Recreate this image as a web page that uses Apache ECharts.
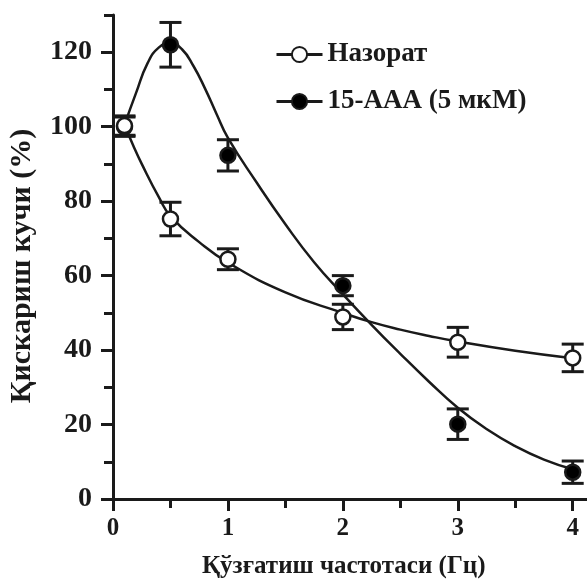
<!DOCTYPE html>
<html><head><meta charset="utf-8">
<script src="https://cdn.jsdelivr.net/npm/echarts@6/dist/echarts.min.js"></script>
<style>html,body{margin:0;padding:0;background:#fff}#c{width:587px;height:580px}</style>
</head><body><div id="c"></div>
<script>
// ---- data ----
const seriesNames = ['Назорат', '15-ААА (5 мкМ)'];
const freq = [0.1, 0.5, 1, 2, 3, 4];
const nazoratMean = [100.3, 75.2, 64.4, 48.9, 42.1, 37.9];
const nazoratErr  = [2.6, 4.5, 2.8, 3.4, 4.0, 3.7];
const aaaMean = [100.0, 122.0, 92.3, 57.3, 20.1, 7.2];
const aaaErr  = [2.6, 6.0, 4.2, 2.7, 4.1, 3.0];
// fitted curves
const nazoratFitX = [0.1, 0.175, 0.25, 0.4, 0.5, 0.75, 1.0, 1.5, 2.0, 2.25, 2.5, 2.75, 3.0, 3.5, 4.0];
const nazoratFitY = [100.5, 95, 90, 81, 76, 69, 63.5, 55.5, 50, 47.5, 45.5, 43.8, 42.3, 39.8, 37.8];
const aaaFitX = [0.1, 0.2, 0.3, 0.4, 0.5, 0.6, 0.7, 0.8, 0.9, 1.0, 1.25, 1.5, 1.75, 2.0, 2.25, 2.5, 2.75, 3.0, 3.25, 3.5, 3.75, 4.0];
const aaaFitY = [100.5, 109, 117, 121.3, 122.4, 120.8, 116.3, 110.3, 103.5, 97, 85, 73.8, 63.6, 55, 46.8, 39, 31.5, 24.5, 18.8, 14.2, 10.6, 8];
const xMajorTicks = [0, 1, 2, 3, 4];
const xMinorTicks = [0.5, 1.5, 2.5, 3.5];
const yMajorTicks = [0, 20, 40, 60, 80, 100, 120];
const yMinorTicks = [10, 30, 50, 70, 90, 110, 130];
const xName = 'Қўзғатиш частотаси (Гц)';
const yName = 'Қискариш кучи (%)';

// ---- chart ----
const INK = '#1a1a1a';
const FONT = '"Liberation Serif", "Times New Roman", serif';
const zip = (a, b) => a.map((v, i) => [v, b[i]]);
const errData = (m, e) => freq.map((x, i) => [x, m[i] - e[i], m[i] + e[i]]);

function errRender(params, api) {
  const x = api.value(0);
  const lo = api.coord([x, api.value(1)]);
  const hi = api.coord([x, api.value(2)]);
  const hw = 11;
  const st = { stroke: INK, lineWidth: 3, fill: null };
  return {
    type: 'group',
    children: [
      { type: 'line', shape: { x1: lo[0], y1: lo[1], x2: hi[0], y2: hi[1] }, style: st },
      { type: 'line', shape: { x1: lo[0] - hw, y1: lo[1], x2: lo[0] + hw, y2: lo[1] }, style: st },
      { type: 'line', shape: { x1: hi[0] - hw, y1: hi[1], x2: hi[0] + hw, y2: hi[1] }, style: st }
    ]
  };
}

const labelStyle = { fontFamily: FONT, fontWeight: 'bold', color: INK };

const option = {
  animation: false,
  backgroundColor: '#fff',
  grid: { left: 113, right: 0.5, top: 15, bottom: 81, containLabel: false, outerBoundsMode: 'none' },
  legend: {
    orient: 'vertical', left: 270, top: 36,
    itemWidth: 46, itemHeight: 19, itemGap: 20,
    textStyle: Object.assign({ fontSize: 27 }, labelStyle),
    data: seriesNames.map(n => ({ name: n, lineStyle: { width: 3, color: INK, opacity: 1 } }))
  },
  xAxis: [
    {
      type: 'value', min: 0, max: 4.12,
      axisLine: { onZero: false, lineStyle: { color: INK, width: 3 } },
      axisTick: { customValues: xMajorTicks, length: 12, lineStyle: { color: INK, width: 3 } },
      axisLabel: Object.assign({ customValues: xMajorTicks, fontSize: 25, margin: 17 }, labelStyle),
      splitLine: { show: false },
      name: xName, nameLocation: 'middle', nameGap: 55,
      nameTextStyle: Object.assign({ fontSize: 25, padding: [0, 12, 0, 0] }, labelStyle)
    },
    {
      type: 'value', min: 0, max: 4.12, position: 'bottom', offset: 0,
      axisLine: { show: false },
      axisTick: { customValues: xMinorTicks, length: 9, lineStyle: { color: INK, width: 3 } },
      axisLabel: { show: false },
      splitLine: { show: false }
    }
  ],
  yAxis: [
    {
      type: 'value', min: 0, max: 130,
      axisLine: { onZero: false, lineStyle: { color: INK, width: 3 } },
      axisTick: { customValues: yMajorTicks, length: 12, lineStyle: { color: INK, width: 3 } },
      axisLabel: Object.assign({ customValues: yMajorTicks, fontSize: 28, margin: 21 }, labelStyle),
      splitLine: { show: false },
      name: yName, nameLocation: 'middle', nameGap: 76,
      nameTextStyle: Object.assign({ fontSize: 30, padding: [0, 18, 0, 0] }, labelStyle)
    },
    {
      type: 'value', min: 0, max: 130, position: 'left', offset: 0,
      axisLine: { show: false },
      axisTick: { customValues: yMinorTicks, length: 9, lineStyle: { color: INK, width: 3 } },
      axisLabel: { show: false },
      splitLine: { show: false }
    }
  ],
  series: [
    { name: 'fitA', type: 'line', data: zip(nazoratFitX, nazoratFitY), smooth: 0.5, symbol: 'none',
      lineStyle: { color: INK, width: 2.5 }, silent: true, z: 2 },
    { name: 'fitB', type: 'line', data: zip(aaaFitX, aaaFitY), smooth: 0.5, symbol: 'none',
      lineStyle: { color: INK, width: 2.5 }, silent: true, z: 2 },
    { name: 'errB', type: 'custom', renderItem: errRender, data: errData(aaaMean, aaaErr),
      encode: { x: 0, y: [1, 2] }, z: 3, silent: true },
    { name: 'errA', type: 'custom', renderItem: errRender, data: errData(nazoratMean, nazoratErr),
      encode: { x: 0, y: [1, 2] }, z: 3, silent: true },
    { name: seriesNames[1], type: 'line', data: zip(freq, aaaMean), symbol: 'circle', symbolSize: 15,
      showAllSymbol: true, lineStyle: { width: 0 },
      itemStyle: { color: '#000', borderColor: INK, borderWidth: 2.5 }, z: 4 },
    { name: seriesNames[0], type: 'line', data: zip(freq, nazoratMean), symbol: 'circle', symbolSize: 15,
      showAllSymbol: true, lineStyle: { width: 0 },
      itemStyle: { color: '#fff', borderColor: INK, borderWidth: 2.5 }, z: 5 }
  ]
};
const chart = echarts.init(document.getElementById('c'), null, { renderer: 'canvas' });
chart.setOption(option);
</script>
</body></html>
